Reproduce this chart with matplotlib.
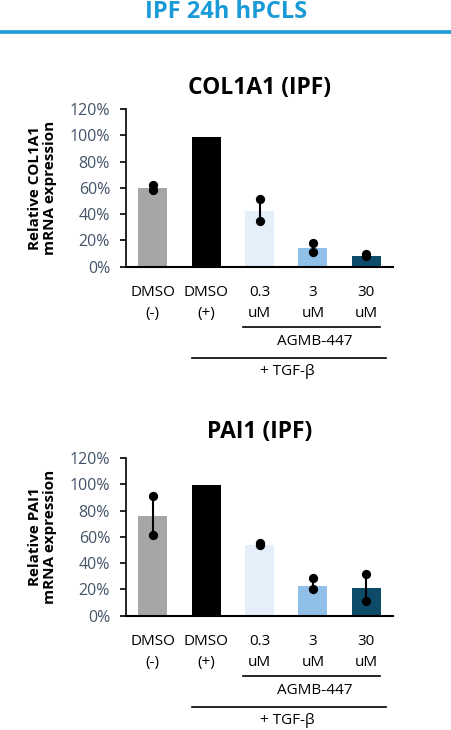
import matplotlib
matplotlib.use("Agg")
import matplotlib.pyplot as plt
import numpy as np

plt.rcParams['font.family'] = ['Open Sans', 'DejaVu Sans']

categories = ["DMSO\n(-)", "DMSO\n(+)", "0.3\nuM", "3\nuM", "30\nuM"]
bar_colors = ["#a6a6a6", "#000000", "#e4effa", "#90bfe8", "#0d4b69"]

col1a1_mean = [60, 99, 42.5, 14.5, 8.5]
col1a1_pts = [[62.5, 58.5], [99, 99], [51.5, 34.5], [18, 11], [9.5, 7.8]]

pai1_mean = [76, 99.5, 53.5, 23, 21]
pai1_pts = [[91.5, 61.5], [99.5, 99.5], [55.5, 54], [28.5, 20], [31.5, 11.5]]

yticks = [0, 20, 40, 60, 80, 100, 120]
tick_color = "#44546a"

W, H = 452, 730
fig = plt.figure(figsize=(W / 100, H / 100), dpi=100)

# Header
fig.text(0.5, 1 - 12 / H, "IPF 24h hPCLS", ha="center", va="center",
         fontsize=17, fontweight="bold", color="#1a9ad6")
fig.add_artist(plt.Line2D([0, 1], [1 - 32 / H, 1 - 32 / H],
                          color="#1a9ad6", lw=2.6, transform=fig.transFigure))


def draw_panel(bottom_px, title, title_y, ylabel, means, pts):
    left, right, top = 126, 393, bottom_px - 157.5
    ax = fig.add_axes([left / W, 1 - bottom_px / H,
                       (right - left) / W, (bottom_px - top) / H])
    x = np.arange(len(categories))
    ax.bar(x, means, width=0.54, color=bar_colors, zorder=1)
    for i, p in enumerate(pts):
        if i == 1:
            continue
        ax.plot([i, i], [min(p), max(p)], color="black", lw=1.5, zorder=2)
        ax.scatter([i] * len(p), p, s=32, color="black", zorder=3)
    ax.set_xlim(-0.5, 4.5)
    ax.set_ylim(0, 120)
    ax.set_yticks(yticks)
    ax.set_yticklabels([f"{v}%" for v in yticks], color=tick_color, fontsize=11.5)
    ax.set_xticks(x)
    ax.set_xticklabels(categories, fontsize=11, color="black", linespacing=1.55)
    ax.tick_params(axis="x", length=0, pad=13)
    ax.tick_params(axis="y", length=4.5, width=1.2, direction="out", pad=7)
    for s in ["top", "right"]:
        ax.spines[s].set_visible(False)
    ax.spines["left"].set_linewidth(1.2)
    ax.spines["bottom"].set_linewidth(1.5)
    ax.set_ylabel(ylabel, fontsize=11, fontweight="bold", labelpad=9,
                  linespacing=1.05)
    fig.text((left + right) / 2 / W, 1 - title_y / H, title, ha="center",
             va="center", fontsize=16.5, fontweight="bold")

    # brackets
    y1 = 1 - (bottom_px + 60) / H
    fig.add_artist(plt.Line2D([243 / W, 380 / W], [y1, y1], color="black",
                              lw=1.2, transform=fig.transFigure))
    fig.text(315 / W, 1 - (bottom_px + 75) / H, "AGMB-447", ha="center",
             va="center", fontsize=11)
    y2 = 1 - (bottom_px + 91) / H
    fig.add_artist(plt.Line2D([192 / W, 386 / W], [y2, y2], color="black",
                              lw=1.2, transform=fig.transFigure))
    fig.text(287 / W, 1 - (bottom_px + 105) / H, "+ TGF-β", ha="center",
             va="center", fontsize=11)
    return ax


draw_panel(266.7, "COL1A1 (IPF)", 88, "Relative COL1A1\nmRNA expression",
           col1a1_mean, col1a1_pts)
draw_panel(615.7, "PAI1 (IPF)", 432, "Relative PAI1\nmRNA expression",
           pai1_mean, pai1_pts)

fig.savefig("out.png", dpi=100)
